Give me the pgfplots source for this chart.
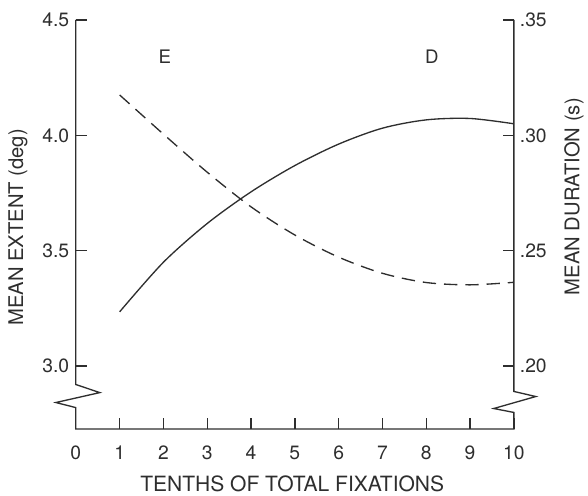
\documentclass[border=0pt]{standalone}
\usepackage{pgfplots}
\pgfplotsset{compat=1.18}
\usepackage{fontspec}
\setmainfont{TeX Gyre Heros}
\definecolor{ink}{HTML}{2E2E2E}
\begin{document}
\begin{tikzpicture}[font=\fontsize{14.5}{17}\selectfont, color=ink]
\begin{axis}[name=ax,
  scale only axis, width=329.25pt, height=307.5pt,
  xmin=0, xmax=10, ymin=2.727, ymax=4.5,
  axis x line*=bottom, axis y line*=left,
  axis line style={draw=none},
  tick align=inside, major tick length=8.5pt,
  tick style={ink, line width=1pt},
  xtick={0,1,...,10}, ytick={3.0,3.5,4.0,4.5},
  yticklabels={3.0,3.5,4.0,4.5},
  /pgf/number format/assume math mode=true,
  xticklabel style={yshift=-9pt},
  yticklabel style={xshift=-1.5pt},
  xlabel={TENTHS OF TOTAL FIXATIONS},
  ylabel={MEAN EXTENT (deg)},
  xlabel style={at={(axis description cs:0.494,-0.133)}, anchor=center, font=\fontsize{15.8}{18}\selectfont},
  ylabel style={at={(axis description cs:-0.132,0.493)}, anchor=center, font=\fontsize{15.2}{18}\selectfont},
  clip=false,
]
\draw[ink, line width=1pt, line join=miter] (axis cs:0,4.5) -- (axis cs:0,2.92) -- (axis cs:0.547,2.885) -- (axis cs:-0.456,2.842) -- (axis cs:0,2.820) -- (axis cs:0,2.727) -- (axis cs:10,2.727) -- (axis cs:10,2.799) -- (axis cs:9.54,2.816) -- (axis cs:10.5,2.868) -- (axis cs:10,2.89) -- (axis cs:10,4.5);
\addplot[ink, line width=1pt, smooth, dash pattern=on 10pt off 6pt] coordinates {
(1,4.175)(2,4.005)(3,3.84)(4,3.69)(5,3.568)(6,3.472)(7,3.402)(8,3.362)(9,3.352)(10,3.363)};
\node[font=\fontsize{14}{16}\selectfont] at (axis cs:2.03,4.34) {E};
\node[font=\fontsize{14}{16}\selectfont] at (axis cs:8.13,4.34) {D};
\end{axis}
\begin{axis}[
  scale only axis, width=329.25pt, height=307.5pt,
  xmin=0, xmax=10, ymin=0.1727, ymax=0.35,
  axis x line=none, axis y line*=right,
  axis line style={draw=none},
  tick align=inside, major tick length=8.5pt,
  tick style={ink, line width=1pt},
  ytick={0.20,0.25,0.30,0.35},
  yticklabels={.20,.25,.30,.35},
  /pgf/number format/assume math mode=true,
  yticklabel style={xshift=1pt},
  ylabel={MEAN DURATION (s)},
  ylabel style={at={(axis description cs:1.137,0.568)}, anchor=center, rotate=0, font=\fontsize{15.2}{18}\selectfont},
  clip=false,
]
\addplot[ink, line width=1pt, smooth] coordinates {
(1,0.2235)(2,0.2450)(3,0.2618)(4,0.2755)(5,0.2869)(6,0.2962)(7,0.3031)(8,0.3067)(9,0.3073)(10,0.3050)};
\end{axis}
\path[use as bounding box] ([xshift=-57pt,yshift=-48pt]ax.south west) rectangle ([xshift=54.75pt,yshift=15pt]ax.north east);
\end{tikzpicture}
\end{document}
